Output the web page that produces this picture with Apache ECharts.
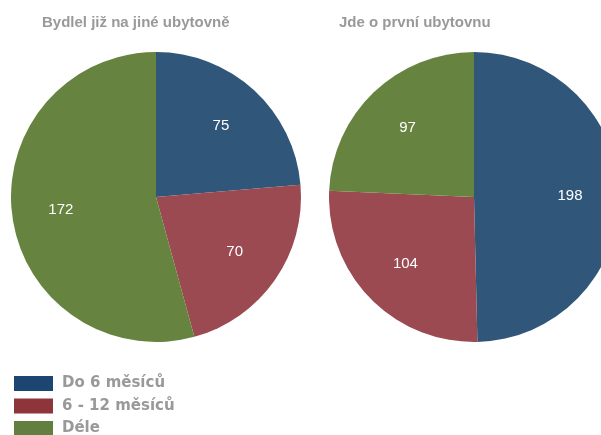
<!DOCTYPE html>
<html><head><meta charset="utf-8">
<script src="https://cdn.jsdelivr.net/npm/echarts@6/dist/echarts.min.js"></script>
<style>html,body{margin:0;padding:0;background:#fff}#c{width:601px;height:435px}</style>
</head><body><div id="c"></div>
<script>
const categories = ['Do 6 měsíců', '6 - 12 měsíců', 'Déle'];
const titles = ['Bydlel již na jiné ubytovně', 'Jde o první ubytovnu'];
const seriesLeft = [75, 70, 172];
const seriesRight = [198, 104, 97];
const legendColors = ['#1c4670', '#8e353c', '#637f3f'];
const sliceColors = ['#30577a', '#9a4a50', '#66843f'];

const chart = echarts.init(document.getElementById('c'));
const centers = [[156, 197], [474, 197]];
const titleLeft = [42, 339];
const R = 145;
function mk(vals, cols) { return vals.map((v, i) => ({ name: categories[i], value: v, itemStyle: { color: cols[i] } })); }
const series = [];
[seriesLeft, seriesRight].forEach((vals, k) => {
  series.push({
    type: 'pie', center: centers[k], radius: [0, R], startAngle: 90, clockwise: true,
    animation: false, silent: true, label: { show: false }, labelLine: { show: false },
    data: mk(vals, sliceColors)
  });
  series.push({
    type: 'pie', center: centers[k], radius: [86, 100], startAngle: 90, clockwise: true,
    animation: false, silent: true, legendHoverLink: false,
    label: { show: true, position: 'inside', color: '#fff', fontSize: 15, padding: [4, 0, 0, 0], fontFamily: 'Liberation Sans, Arial, sans-serif', formatter: '{c}' },
    labelLine: { show: false },
    data: vals.map((v, i) => ({ name: categories[i], value: v, itemStyle: { color: 'rgba(0,0,0,0)' } }))
  });
});
chart.setOption({
  title: titles.map((t, k) => ({
    text: t, left: titleLeft[k], top: 15, padding: 0,
    textStyle: { color: '#999', fontSize: 15, fontWeight: 'bold', fontFamily: 'Liberation Sans, Arial, sans-serif' }
  })),
  legend: {
    orient: 'vertical', left: 14, top: 376, height: 62, padding: 0, itemWidth: 39, itemHeight: 15, itemGap: 7.5,
    icon: 'rect',
    data: categories.map((c, i) => ({ name: c, itemStyle: { color: legendColors[i] } })),
    textStyle: { color: '#999', fontSize: 15, fontWeight: 'bold', fontFamily: 'DejaVu Sans, sans-serif', padding: [0, 0, 0, 4] },
    selectedMode: false
  },
  series: series
});
</script></body></html>
